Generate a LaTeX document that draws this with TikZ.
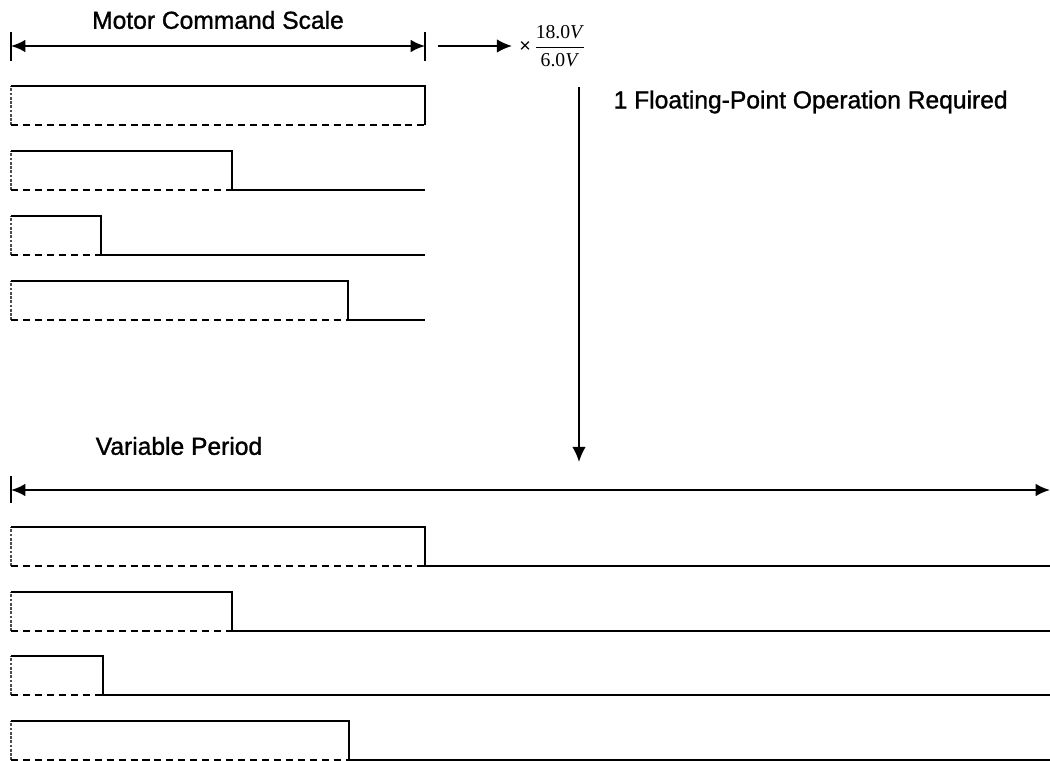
\documentclass[tikz,border=0pt]{standalone}
\usepackage{fontspec}
\usepackage{amsmath}
\setmainfont{Liberation Sans}
\newfontfamily\headfont[FakeBold=1.2]{Liberation Sans}
\newfontfamily\ratiofont{Liberation Serif}
\usepackage{tikz}
\usetikzlibrary{arrows.meta,positioning}

\tikzset{
    dimline/.style={line width=1.6pt, {Latex[length=3.6mm,width=3.2mm]}-{Latex[length=3.6mm,width=3.2mm]}},
    flow/.style={line width=1.2pt, -{Latex[length=3.8mm,width=3.4mm]}},
    endbar/.style={line width=1.2pt},
    pulsehi/.style={line width=1.5pt},
    pulselo/.style={line width=1.3pt, dash pattern=on 5pt off 3.5pt},
    riseedge/.style={line width=0.8pt, black!70, dash pattern=on 2pt off 1pt},
    heading/.style={font=\headfont\fontsize{17.5}{20}\selectfont, inner sep=1pt}
}

\begin{document}
\begin{tikzpicture}[x=0.025cm, y=-0.025cm]
    \useasboundingbox (0,0) rectangle (1050,761);

    % Scale
    \node[heading] (scale) at (218,20) {Motor Command Scale};
    \draw[endbar] (11,32) -- (11,61);
    \draw[endbar] (425,32) -- (425,61);
    \coordinate (sl) at (11,46);
    \coordinate (sr) at (425,46);
    \draw[dimline] (sl) -- (sr);

    % Ratio
    \coordinate (rs) at (438,46);
    \node[anchor=west, inner sep=0pt, font=\fontsize{14}{16}\selectfont] (ratio) at (519,46)
        {×\,$\dfrac{\text{\ratiofont 18.0\textit{V}}}{\text{\ratiofont 6.0\textit{V}}}$};
    \draw[flow] (rs) -- ([xshift=-5pt]ratio.west);

    % Down arrow
    \coordinate (vt) at (579,87);
    \coordinate (vb) at (579,462);
    \draw[flow] (vt) -- (vb);
    \node[heading, anchor=west] (flops) at (612,102) {1 Floating-Point Operation Required};

    % Period
    \node[heading] (period) at (179,446) {Variable Period};
    \draw[endbar] (11,476) -- (11,503);
    \coordinate (pl) at (11,490);
    \coordinate (pr) at (1050,490);
    \draw[dimline] (pl) -- (pr);

    % Pulses
    \foreach \y/\w/\e in {86/425/425, 151/232/425, 216/101/425, 281/348/425,
                          527/425/1050, 592/232/1050, 656/103/1050, 721/349/1050} {
        \draw[riseedge] (11,\y+39) -- (11,\y);
        \draw[pulselo] (11,\y+39) -- (\w,\y+39);
        \draw[pulsehi] (11,\y) -- (\w,\y) -- (\w,\y+39) -- (\e,\y+39);
    }

\end{tikzpicture}
\end{document}
